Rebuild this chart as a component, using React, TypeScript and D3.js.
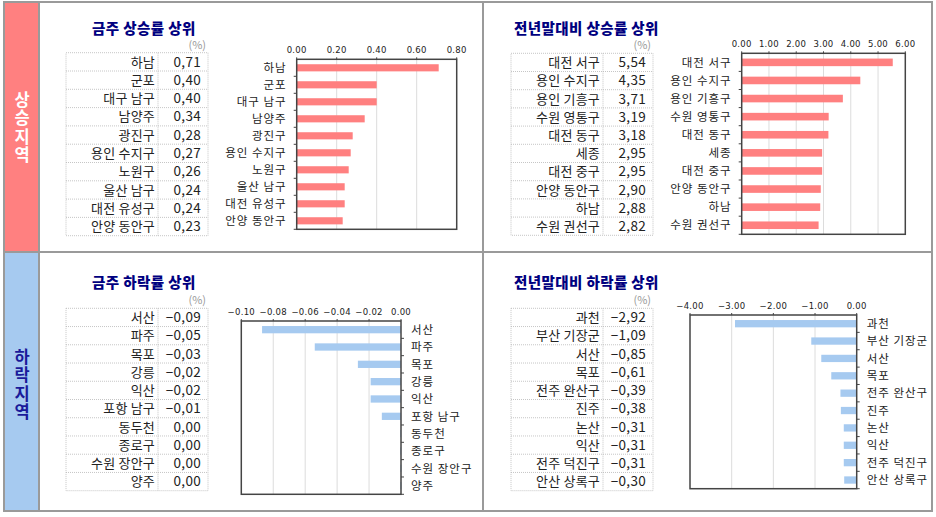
import React from 'react';
import * as d3 from 'd3';

// weekly rise top 10
const weekUpNames = ['하남', '군포', '대구 남구', '남양주', '광진구', '용인 수지구', '노원구', '울산 남구', '대전 유성구', '안양 동안구'];
const weekUpValues = [0.71, 0.40, 0.40, 0.34, 0.28, 0.27, 0.26, 0.24, 0.24, 0.23];

// year-to-date rise top 10
const ytdUpNames = ['대전 서구', '용인 수지구', '용인 기흥구', '수원 영통구', '대전 동구', '세종', '대전 중구', '안양 동안구', '하남', '수원 권선구'];
const ytdUpValues = [5.54, 4.35, 3.71, 3.19, 3.18, 2.95, 2.95, 2.90, 2.88, 2.82];

// weekly fall top 10
const weekDownNames = ['서산', '파주', '목포', '강릉', '익산', '포항 남구', '동두천', '종로구', '수원 장안구', '양주'];
const weekDownValues = [-0.087, -0.054, -0.027, -0.019, -0.019, -0.012, -0.0004, -0.0004, -0.0003, -0.0003];

// year-to-date fall top 10
const ytdDownNames = ['과천', '부산 기장군', '서산', '목포', '전주 완산구', '진주', '논산', '익산', '전주 덕진구', '안산 상록구'];
const ytdDownValues = [-2.92, -1.09, -0.85, -0.61, -0.39, -0.38, -0.31, -0.31, -0.31, -0.30];

const weekUpTicks = [0, 0.2, 0.4, 0.6, 0.8];
const ytdUpTicks = [0, 1, 2, 3, 4, 5, 6];
const weekDownTicks = [-0.1, -0.08, -0.06, -0.04, -0.02, 0];
const ytdDownTicks = [-4, -3, -2, -1, 0];

const KR = '"Noto Sans CJK KR", "Noto Sans", sans-serif';
const RED = '#ff8080';
const BLUE = '#a6caf0';
const NAVY = '#000080';
const GREY = '#9a9a9a';

const fmtTable = (v: number) => {
  if (Math.abs(v) < 0.005) return '0,00';
  return v.toFixed(2).replace('.', ',').replace('-', '−');
};
const fmtTick = (v: number) => (Math.abs(v) < 1e-9 ? '0.00' : v.toFixed(2).replace('-', '−'));

type PanelProps = {
  title: string;
  names: string[];
  values: number[];
  ticks: number[];
  color: string;
  titleX: number;
  titleY: number;
  tbl: { x0: number; xDiv: number; x1: number; top: number; rowH: number };
  plot: { left: number; right: number; top: number; bottom: number };
  labelsRight: boolean;
};

function Panel({ title, names, values, ticks, color, titleX, titleY, tbl, plot, labelsRight }: PanelProps) {
  const x = d3
    .scaleLinear()
    .domain([ticks[0], ticks[ticks.length - 1]])
    .range([plot.left, plot.right]);
  const y = d3.scaleBand<string>().domain(names).range([plot.top, plot.bottom]).paddingInner(0.58).paddingOuter(0.29);
  const band = (plot.bottom - plot.top) / names.length;
  const axisX = x(0);
  const tickDir = labelsRight ? 1 : -1;

  return (
    <g>
      <text x={titleX} y={titleY} fontFamily={KR} fontSize={14.5} fontWeight="900" letterSpacing={0.4} fill={NAVY}>
        {title}
      </text>
      <text x={tbl.x1 - 2} y={tbl.top - 4} fontFamily={KR} fontSize={11} fill="#999" textAnchor="end">
        (%)
      </text>

      {/* table */}
      <g stroke="#b8b8b8" strokeWidth={0.8} strokeDasharray="1,1" fill="none">
        <rect x={tbl.x0} y={tbl.top} width={tbl.x1 - tbl.x0} height={tbl.rowH * names.length} />
        <line x1={tbl.xDiv} x2={tbl.xDiv} y1={tbl.top} y2={tbl.top + tbl.rowH * names.length} />
        {names.slice(1).map((_, i) => (
          <line key={i} x1={tbl.x0} x2={tbl.x1} y1={tbl.top + tbl.rowH * (i + 1)} y2={tbl.top + tbl.rowH * (i + 1)} />
        ))}
      </g>
      {names.map((n, i) => (
        <g key={n + i} fontFamily={KR} fontSize={13} fill="#222">
          <text x={tbl.xDiv - 3} y={tbl.top + tbl.rowH * i + tbl.rowH / 2 + 4.7} textAnchor="end" letterSpacing={0.2}>
            {n}
          </text>
          <text x={tbl.x1 - 7} y={tbl.top + tbl.rowH * i + tbl.rowH / 2 + 4.7} textAnchor="end" fontSize={13.5} letterSpacing={0.3}>
            {fmtTable(values[i])}
          </text>
        </g>
      ))}

      {/* chart */}
      {ticks.slice(1, -1).map((t) => (
        <line key={t} x1={x(t)} x2={x(t)} y1={plot.top} y2={plot.bottom} stroke="#dcdcdc" strokeWidth={1} />
      ))}
      {names.map((n, i) => {
        const v = values[i];
        const x0 = Math.min(x(v), x(0));
        const w = Math.max(Math.abs(x(v) - x(0)), 0.8);
        return <rect key={n + i} x={x0} y={y(n)} width={w} height={y.bandwidth()} fill={color} />;
      })}
      <rect
        x={plot.left}
        y={plot.top}
        width={plot.right - plot.left}
        height={plot.bottom - plot.top}
        fill="none"
        stroke="#444"
        strokeWidth={1.5}
      />
      {names.map((_, i) => (
        <line
          key={i}
          x1={axisX}
          x2={axisX + tickDir * 3}
          y1={plot.top + band * (i + 1)}
          y2={plot.top + band * (i + 1)}
          stroke="#444"
          strokeWidth={1}
        />
      ))}
      {ticks.map((t) => (
        <g key={t}>
          <line x1={x(t)} x2={x(t)} y1={plot.top} y2={plot.top - 2} stroke="#444" />
          <text
            x={x(t)}
            y={plot.top - 6}
            textAnchor="middle"
            fontFamily="'DejaVu Sans', sans-serif"
            fontSize={8.5}
            letterSpacing={0.3}
            fill="#222"
          >
            {fmtTick(t)}
          </text>
        </g>
      ))}
      {names.map((n) => (
        <text
          key={n}
          x={labelsRight ? axisX + 10 : plot.left - 10}
          y={(y(n) ?? 0) + y.bandwidth() / 2 + 4.2}
          textAnchor={labelsRight ? 'start' : 'end'}
          fontFamily={KR}
          fontSize={11.5}
          letterSpacing={1}
          fill="#222"
        >
          {n}
        </text>
      ))}
    </g>
  );
}

function VerticalLabel({ label, cx, top, fill }: { label: string; cx: number; top: number; fill: string }) {
  return (
    <text
      x={cx}
      y={top}
      fontFamily={KR}
      fontSize={16.5}
      fontWeight="bold"
      letterSpacing={2}
      fill={fill}
      style={{ writingMode: 'vertical-rl', textOrientation: 'upright' } as React.CSSProperties}
    >
      {label}
    </text>
  );
}

export default function App() {
  return (
    <svg width={936} height={517} style={{ position: 'absolute', left: 0, top: 0, background: '#fff' }}>
      {/* left strips */}
      <rect x={5} y={3} width={34} height={249} fill={RED} />
      <rect x={5} y={253} width={34} height={257} fill={BLUE} />
      <VerticalLabel label="상승지역" cx={22} top={91} fill="#fff" />
      <VerticalLabel label="하락지역" cx={22} top={348} fill="#1a1a9a" />

      {/* frame */}
      <rect x={4} y={2} width={928} height={509} fill="none" stroke={GREY} strokeWidth={2} />
      <line x1={39} x2={39} y1={2} y2={511} stroke={GREY} strokeWidth={2} />
      <line x1={483} x2={483} y1={2} y2={511} stroke={GREY} strokeWidth={2} />
      <line x1={4} x2={932} y1={252} y2={252} stroke={GREY} strokeWidth={2} />

      <Panel
        title="금주 상승률 상위"
        names={weekUpNames}
        values={weekUpValues}
        ticks={weekUpTicks}
        color={RED}
        titleX={92}
        titleY={34}
        tbl={{ x0: 66, xDiv: 158, x1: 208, top: 52.7, rowH: 18.3 }}
        plot={{ left: 296.7, right: 456.7, top: 59.3, bottom: 229.3 }}
        labelsRight={false}
      />
      <Panel
        title="전년말대비 상승률 상위"
        names={ytdUpNames}
        values={ytdUpValues}
        ticks={ytdUpTicks}
        color={RED}
        titleX={514}
        titleY={34}
        tbl={{ x0: 511, xDiv: 603, x1: 653, top: 53.3, rowH: 18.2 }}
        plot={{ left: 741.7, right: 905.3, top: 53.3, bottom: 234.3 }}
        labelsRight={false}
      />
      <Panel
        title="금주 하락률 상위"
        names={weekDownNames}
        values={weekDownValues}
        ticks={weekDownTicks}
        color={BLUE}
        titleX={92}
        titleY={288}
        tbl={{ x0: 66, xDiv: 158, x1: 208, top: 308.3, rowH: 18.24 }}
        plot={{ left: 241.3, right: 401, top: 321, bottom: 494.3 }}
        labelsRight={true}
      />
      <Panel
        title="전년말대비 하락률 상위"
        names={ytdDownNames}
        values={ytdDownValues}
        ticks={ytdDownTicks}
        color={BLUE}
        titleX={514}
        titleY={288}
        tbl={{ x0: 511, xDiv: 603, x1: 653, top: 308.3, rowH: 18.24 }}
        plot={{ left: 690, right: 856.7, top: 315, bottom: 488.7 }}
        labelsRight={true}
      />
    </svg>
  );
}
